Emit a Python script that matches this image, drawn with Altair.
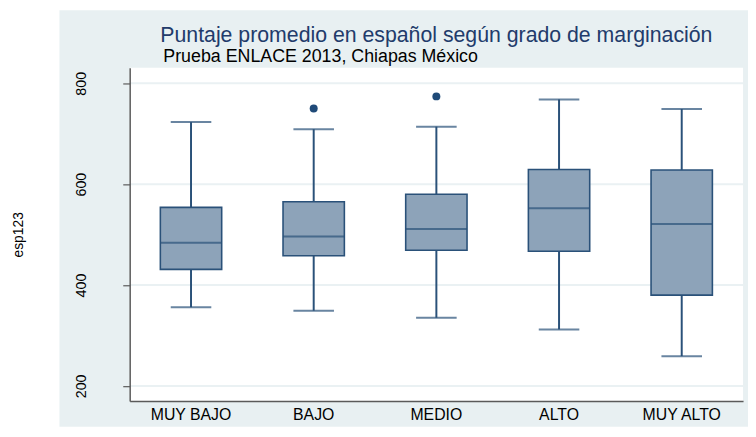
import altair as alt
import pandas as pd

categories = ["MUY BAJO", "BAJO", "MEDIO", "ALTO", "MUY ALTO"]
lower_whisker = [356, 349, 335, 312, 259]
q1 = [431, 458, 469, 467, 380]
median = [484, 496, 511, 552, 521]
q3 = [554, 565, 580, 629, 628]
upper_whisker = [723, 709, 714, 768, 749]
outlier_cat = ["BAJO", "MEDIO"]
outlier_val = [750, 774]
grid_vals = [200, 400, 600, 800]

W, H = 620, 337
FONT = "Liberation Sans"
BOX_FILL = "#8DA3B9"
BOX_LINE = "#2A5179"
BG = "#E8F0F2"

df = pd.DataFrame({"cat": categories, "lo": lower_whisker, "q1": q1,
                   "med": median, "q3": q3, "hi": upper_whisker})
out_df = pd.DataFrame({"cat": outlier_cat, "v": outlier_val})
grid_df = pd.DataFrame({"v": grid_vals})
one = pd.DataFrame({"a": [0]})

xenc = alt.X("cat:N", sort=categories, title=None,
             scale=alt.Scale(paddingInner=0, paddingOuter=0),
             axis=alt.Axis(labelAngle=0, ticks=False, labelPadding=6, labelFontSize=16,
                           labelColor="#000000", labelFont=FONT, domainColor="#5A5A5A",
                           domainWidth=1.5, zindex=1))
yscale = alt.Scale(domain=[170, 831], nice=False, zero=False)
yaxis = alt.Axis(values=grid_vals, grid=False, labelAngle=270, labelAlign="center",
                 labelBaseline="bottom", labelPadding=35, tickSize=7, tickColor="#5A5A5A",
                 tickWidth=1.2, labelFontSize=14.5, labelColor="#000000", labelFont=FONT,
                 domainColor="#5A5A5A", domainWidth=1.5, title="esp123", titleAngle=270,
                 titleX=-112, titleBaseline="middle", titleFontSize=14,
                 titleFontWeight="normal", titleFont=FONT, titleColor="#000000", zindex=1)

bg = alt.Chart(one).mark_rect(color=BG).encode(
    x=alt.value(-71), x2=alt.value(W + 5), y=alt.value(-58), y2=alt.value(H + 26))
white = alt.Chart(one).mark_rect(color="#FFFFFF").encode(
    x=alt.value(0), x2=alt.value(W), y=alt.value(0), y2=alt.value(H))
grid = alt.Chart(grid_df).mark_rule(color="#EAF1F3", strokeWidth=2).encode(
    y=alt.Y("v:Q", scale=yscale, axis=yaxis))

base = alt.Chart(df).encode(x=xenc)
whisk_lo = base.mark_rule(color=BOX_LINE, strokeWidth=2).encode(
    y=alt.Y("lo:Q", scale=yscale), y2="q1:Q")
whisk_hi = base.mark_rule(color=BOX_LINE, strokeWidth=2).encode(
    y=alt.Y("q3:Q", scale=yscale), y2="hi:Q")
box = base.mark_bar(width=alt.RelativeBandSize(0.5), fill=BOX_FILL, stroke=BOX_LINE,
                    strokeWidth=1.6).encode(y=alt.Y("q1:Q", scale=yscale), y2="q3:Q")
med = base.mark_tick(color=BOX_LINE, size=62, thickness=2).encode(
    y=alt.Y("med:Q", scale=yscale))
cap_lo = base.mark_tick(color=BOX_LINE, size=41, thickness=2).encode(
    y=alt.Y("lo:Q", scale=yscale))
cap_hi = base.mark_tick(color=BOX_LINE, size=41, thickness=2).encode(
    y=alt.Y("hi:Q", scale=yscale))
outl = alt.Chart(out_df).mark_circle(color="#1F4A78", opacity=1, size=65).encode(
    x=alt.X("cat:N", sort=categories), y=alt.Y("v:Q", scale=yscale))

title = alt.Chart(one).mark_text(
    text="Puntaje promedio en español según grado de marginación", font=FONT,
    fontSize=21.5, color="#223B6B", align="center", baseline="alphabetic").encode(
    x=alt.value(W / 2), y=alt.value(-25.5))
subtitle = alt.Chart(one).mark_text(
    text="Prueba ENLACE 2013, Chiapas México", font=FONT, fontSize=18,
    color="#000000", align="left", baseline="alphabetic").encode(
    x=alt.value(34), y=alt.value(-5.5))

chart = alt.layer(bg, white, grid, whisk_lo, whisk_hi, box, med, cap_lo, cap_hi, outl,
                  title, subtitle).properties(
    width=W, height=H,
    autosize=alt.AutoSizeParams(type="none"),
    padding={"left": 123, "top": 58, "right": 5, "bottom": 26},
    background="#FFFFFF",
).configure_view(stroke=None)

chart.save("out.html", embed_options={"renderer": "svg", "actions": False})
